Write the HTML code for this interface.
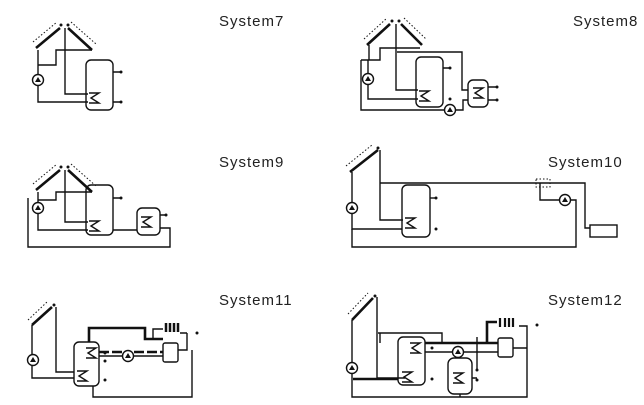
<!DOCTYPE html>
<html><head><meta charset="utf-8"><style>
html,body{margin:0;padding:0;background:#fff;width:644px;height:405px;overflow:hidden}
svg{display:block}
text{font-family:"Liberation Sans",sans-serif;font-size:15px;fill:#222;letter-spacing:1px}
.p{stroke:#111;stroke-width:1.4;fill:none}
.b{stroke:#111;stroke-width:2.6;fill:none}
.t{stroke:#111;stroke-width:1.4;fill:#fff}
.h{stroke:#111;stroke-width:1;stroke-dasharray:1.5 2;fill:none}
</style></head><body>
<svg width="644" height="405" viewBox="0 0 644 405">
<defs>
<g id="pump"><circle r="5.5" class="t"/><path d="M-3,2 L0,-3 L3,2 Z" fill="#111"/></g>
<g id="coil"><path d="M-5,-5 L5,-5 L-3,0 L5,5 L-5,5" class="p"/></g>
</defs>
<text x="219" y="26">System7</text>
<text x="573" y="26">System8</text>
<text x="219" y="167">System9</text>
<text x="548" y="167">System10</text>
<text x="219" y="305">System11</text>
<text x="548" y="305">System12</text>

<!-- System7 -->
<g>
<path d="M36,48 L60,28 M68,28 L92,50" class="b"/>
<path d="M33,42 L57,22 M71,22 L96,44" class="h"/>
<circle cx="61" cy="25" r="1.5" fill="#111"/><circle cx="68" cy="25" r="1.5" fill="#111"/>
<path d="M38,50 L38,74 M38,86 L38,102 L88,102" class="p"/>
<path d="M65,28 L65,94 L88,94" class="p"/>
<path d="M92,50 L56,50 L56,65 L38,65" class="p"/>
<rect x="86" y="60" width="27" height="50" rx="5" class="p"/>
<use href="#coil" x="94" y="98"/>
<path d="M113,72 L121,72 M113,102 L121,102" class="p"/>
<circle cx="121" cy="72" r="1.5" fill="#111"/><circle cx="121" cy="102" r="1.5" fill="#111"/>
<use href="#pump" x="38" y="80"/>
</g>

<!-- System8 -->
<g>
<path d="M367,45 L390,24 M401,24 L422,45" class="b"/>
<path d="M364,39 L387,18 M404,18 L426,39" class="h"/>
<circle cx="392" cy="21" r="1.5" fill="#111"/><circle cx="399" cy="21" r="1.5" fill="#111"/>
<path d="M369,45 L369,60 M361,60 L380,60 L380,48 L420,48 M368,60 L368,73 M368,85 L368,99 L418,99" class="p"/>
<path d="M396,24 L396,90 L418,90" class="p"/>
<path d="M397,52 L462,52 L462,90 L468,90" class="p"/>
<path d="M361,60 L361,110 L444,110 M456,110 L463,110 L463,100 L468,100" class="p"/>
<rect x="416" y="57" width="27" height="50" rx="5" class="p"/>
<use href="#coil" x="424" y="96"/>
<rect x="468" y="80" width="20" height="27" rx="5" class="p"/>
<use href="#coil" x="478" y="93"/>
<path d="M443,68 L450,68 M488,87 L497,87 M488,100 L497,100" class="p"/>
<circle cx="450" cy="68" r="1.5" fill="#111"/><circle cx="450" cy="99" r="1.5" fill="#111"/>
<circle cx="497" cy="87" r="1.5" fill="#111"/><circle cx="497" cy="100" r="1.5" fill="#111"/>
<use href="#pump" x="368" y="79"/>
<use href="#pump" x="450" y="110"/>
</g>

<!-- System9 -->
<g>
<path d="M36,190 L60,170 M68,170 L92,192" class="b"/>
<path d="M33,184 L57,164 M71,164 L96,186" class="h"/>
<circle cx="61" cy="167" r="1.5" fill="#111"/><circle cx="68" cy="167" r="1.5" fill="#111"/>
<path d="M38,192 L38,202 M38,214 L38,230 L88,230" class="p"/>
<path d="M65,170 L65,222 L88,222" class="p"/>
<path d="M92,192 L56,192 L56,200 L38,200" class="p"/>
<path d="M28,198 L28,247 L170,247 L170,228 L160,228" class="p"/>
<rect x="86" y="185" width="27" height="50" rx="5" class="p"/>
<use href="#coil" x="94" y="226"/>
<rect x="137" y="208" width="23" height="27" rx="5" class="p"/>
<use href="#coil" x="146" y="222"/>
<path d="M113,198 L121,198 M113,230 L137,230 M160,215 L166,215" class="p"/>
<circle cx="121" cy="198" r="1.5" fill="#111"/><circle cx="166" cy="215" r="1.5" fill="#111"/>
<use href="#pump" x="38" y="208"/>
</g>

<!-- System10 -->
<g>
<path d="M350,172 L378,150" class="b"/>
<path d="M346,166 L372,145" class="h"/>
<circle cx="378" cy="148" r="1.5" fill="#111"/>
<path d="M352,172 L352,202 M352,214 L352,229 L402,229" class="p"/>
<path d="M380,150 L380,220 L403,220" class="p"/>
<path d="M380,183 L585,183 L585,200 M540,183 L540,200 L559,200 M571,200 L576,200 L576,247 L352,247 L352,229" class="p"/>
<rect x="402" y="185" width="28" height="52" rx="5" class="p"/>
<use href="#coil" x="410" y="223"/>
<path d="M430,198 L436,198" class="p"/>
<circle cx="436" cy="198" r="1.5" fill="#111"/><circle cx="436" cy="229" r="1.5" fill="#111"/>
<rect x="536" y="179" width="14" height="8" class="h"/>
<rect x="590" y="225" width="27" height="12" class="p"/>
<path d="M585,200 L585,228 L590,228" class="p"/>
<use href="#pump" x="352" y="208"/>
<use href="#pump" x="565" y="200"/>
</g>

<!-- System11 -->
<g>
<path d="M32,325 L52,307" class="b"/>
<path d="M28,320 L47,302" class="h"/>
<circle cx="54" cy="305" r="1.5" fill="#111"/>
<path d="M32,325 L32,354 M32,366 L32,378 L74,378" class="p"/>
<path d="M56,307 L56,372 L74,372" class="p"/>
<rect x="74" y="342" width="25" height="44" rx="5" class="p"/>
<use href="#coil" x="82" y="376"/>
<use href="#coil" x="91" y="353"/>
<path d="M89,342 L89,328 L145,328 L145,339 L163,339" class="b"/>
<path d="M99,352 L122,352 M134,352 L163,352" class="b" stroke-dasharray="10 3"/>
<path d="M99,356 L122,356 M134,356 L163,356" class="p"/>
<rect x="163" y="343" width="15" height="19" rx="2" class="p"/>
<path d="M153,339 L153,329 L163,329 M178,350 L187,350 L187,333 M180,333 L187,333 M192,350 L192,397 L93,397 L93,386" class="p"/>
<path d="M166,323 L166,332 M170,323 L170,332 M174,323 L174,332 M178,323 L178,332" stroke="#111" stroke-width="2.5"/>
<circle cx="197" cy="333" r="1.5" fill="#111"/>
<circle cx="105" cy="353" r="1.5" fill="#111"/><circle cx="105" cy="361" r="1.5" fill="#111"/><circle cx="105" cy="380" r="1.5" fill="#111"/>
<use href="#pump" x="33" y="360"/>
<use href="#pump" x="128" y="356"/>
</g>

<!-- System12 -->
<g>
<path d="M352,320 L373,298" class="b"/>
<path d="M348,314 L368,293" class="h"/>
<circle cx="375" cy="296" r="1.5" fill="#111"/>
<path d="M352,320 L352,362 M352,374 L352,397 L527,397 L527,348" class="p"/>
<path d="M353,379 L398,379" class="b"/>
<path d="M377,297 L377,378 L405,378" class="p"/>
<path d="M378,333 L442,333 L442,343 M380,333 L380,343" class="p"/>
<rect x="398" y="337" width="27" height="48" rx="5" class="p"/>
<use href="#coil" x="407" y="377"/>
<use href="#coil" x="415" y="348"/>
<path d="M425,343 L498,343 M487,343 L487,322 L497,322" class="b"/>
<path d="M425,352 L452,352 M464,352 L498,352" class="p"/>
<path d="M477,337 L477,370" class="p"/>
<rect x="448" y="358" width="24" height="36" rx="6" class="p"/>
<use href="#coil" x="458" y="378"/>
<path d="M460,394 L460,397 M472,378 L477,378" class="p"/>
<rect x="498" y="338" width="15" height="19" rx="2" class="p"/>
<path d="M513,348 L527,348 M519,326 L527,326 L527,348" class="p"/>
<path d="M500,318 L500,327 M505,318 L505,327 M509,318 L509,327 M513,318 L513,327" stroke="#111" stroke-width="2.2"/>
<circle cx="537" cy="325" r="1.5" fill="#111"/><circle cx="432" cy="348" r="1.5" fill="#111"/><circle cx="432" cy="379" r="1.5" fill="#111"/>
<circle cx="477" cy="370" r="1.5" fill="#111"/><circle cx="477" cy="380" r="1.5" fill="#111"/>
<use href="#pump" x="352" y="368"/>
<use href="#pump" x="458" y="352"/>
</g>
</svg>
</body></html>
